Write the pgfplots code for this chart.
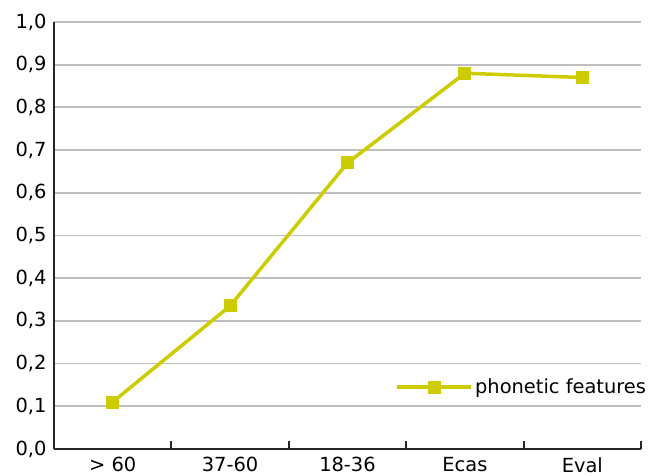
\documentclass[border=0pt]{standalone}
\usepackage{pgfplots}
\pgfplotsset{compat=1.18}
\usepackage{fontspec}
\setmainfont{DejaVu Sans}
\definecolor{lineyel}{RGB}{204,204,0}
\definecolor{gridgray}{RGB}{190,190,190}
\begin{document}
\begin{tikzpicture}
\begin{axis}[
  scale only axis,
  width=587bp, height=427bp,
  xmin=-0.5, xmax=4.5,
  ymin=0, ymax=1,
  axis lines=left,
  axis line style={-, line width=2bp, color=black!85},
  xtick={0,1,2,3,4},
  xticklabels={{> 60},{37-60},{18-36},{Ecas},{Eval}},
  minor xtick={0.5,1.5,2.5,3.5,4.5},
  major x tick style={draw=none},
  minor tick length=8bp,
  tick align=inside,
  minor tick style={line width=2bp, black!85},
  ytick={0,0.1,...,1.0},
  major y tick style={draw=none},
  ymajorgrids,
  grid style={line width=1.8bp, gridgray},
  font=\fontsize{19.5}{23}\selectfont,
  ticklabel style={font=\fontsize{19.5}{23}\selectfont},
  xticklabel style={yshift=-5bp},
  yticklabel style={xshift=-4bp},
  /pgf/number format/.cd, use comma, fixed, fixed zerofill, precision=1, assume math mode=true,
  /pgfplots/.cd,
  legend style={draw=none, fill=none, inner sep=0pt, outer sep=0pt, at={(1.012,0.145)}, anchor=east, font=\fontsize{19.5}{23}\selectfont},
  legend image code/.code={\draw[#1, mark repeat=2, mark phase=2] plot coordinates {(0bp,0bp) (37bp,0bp) (74bp,0bp)};},
  clip=false,
]
\addplot[color=lineyel, line width=3.5bp, mark=square*, mark size=6bp, mark options={solid, fill=lineyel, draw=lineyel, line width=0bp}]
  coordinates {(0,0.110) (1,0.335) (2,0.670) (3,0.880) (4,0.870)};
\addlegendentry{phonetic features}
\end{axis}
\path (current axis.south west) ++(-54bp,-27bp) rectangle ++(650bp,476bp);
\end{tikzpicture}
\end{document}
